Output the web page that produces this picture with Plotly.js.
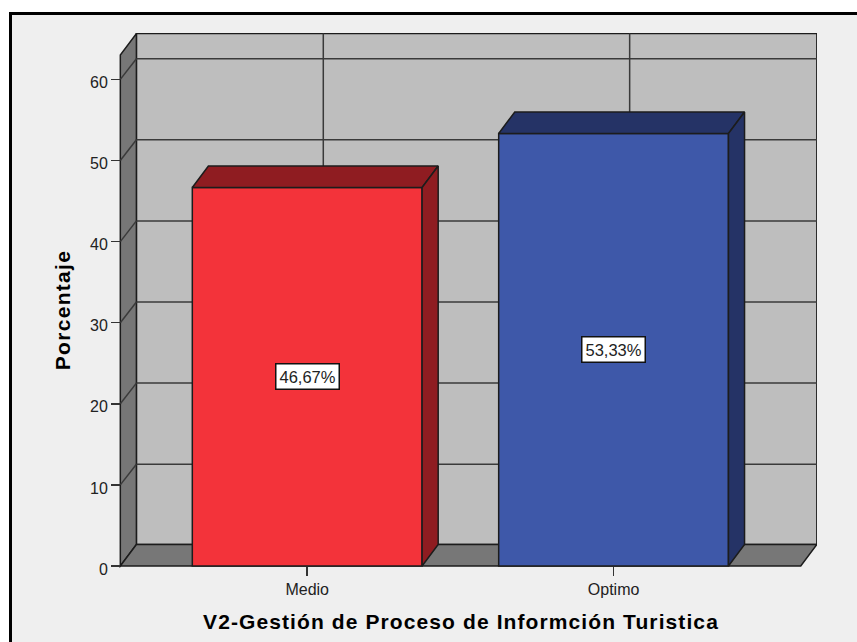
<!DOCTYPE html>
<html>
<head>
<meta charset="utf-8">
<script src="https://cdn.plot.ly/plotly-3.0.1.min.js"></script>
<style>
html,body{margin:0;padding:0;background:#fff;overflow:hidden}
#frame{position:absolute;left:9px;top:12px;width:848px;height:630px;box-sizing:border-box;border-left:3px solid #000;border-top:3px solid #000;background:#efefef}
#chart{width:845px;height:627px}
.xtitle{letter-spacing:1.1px}
.ytitle{letter-spacing:1.3px}
</style>
</head>
<body>
<div id="frame"><div id="chart"></div></div>
<script>
const categories = ['Medio', 'Optimo'];
const positions = [0, 1];
const percentages = [46.67, 53.33];
const barLabels = ['46,67%', '53,33%'];
const frontColors = ['#f3333a', '#3e58a9'];
const sideColors = ['#8f1c21', '#253366'];
const yTicks = [0, 10, 20, 30, 40, 50, 60];

const barWidth = 0.75;
const depthX = 0.0525;
const depthY = 2.65;
const gridDepthY = 2.55;
const frontLeft = -0.61, frontRight = 1.611, frontTop = 63;

const edge = '#1c1c1c';
const wallLine = {color: edge, width: 1.5};
const gridLine = {color: '#3a3a3a', width: 1.5};

function poly(pts, fill, line) {
  return {type: 'path', layer: 'below', xref: 'x', yref: 'y',
    path: 'M' + pts.map(p => p[0] + ',' + p[1]).join('L') + 'Z',
    fillcolor: fill, line: line};
}
function seg(x0, y0, x1, y1, line) {
  return {type: 'line', layer: 'below', xref: 'x', yref: 'y', x0, y0, x1, y1, line};
}

const shapes = [
  poly([[frontLeft + depthX, depthY], [frontRight + depthX, depthY], [frontRight + depthX, frontTop + depthY], [frontLeft + depthX, frontTop + depthY]], '#bebebe', wallLine),
  poly([[frontLeft, 0], [frontLeft + depthX, depthY], [frontLeft + depthX, frontTop + depthY], [frontLeft, frontTop]], '#777777', wallLine),
  poly([[frontLeft, 0], [frontRight, 0], [frontRight + depthX, depthY], [frontLeft + depthX, depthY]], '#777777', wallLine)
];
yTicks.slice(1).forEach(v => {
  shapes.push(seg(frontLeft + depthX, v + gridDepthY, frontRight + depthX, v + gridDepthY, gridLine));
  shapes.push(seg(frontLeft, v, frontLeft + depthX, v + gridDepthY, gridLine));
});
positions.forEach(p => {
  shapes.push(seg(p + depthX, depthY, p + depthX, frontTop + depthY, gridLine));
});

const traces = [{
  type: 'bar', x: positions, y: percentages, width: barWidth,
  marker: {color: frontColors, line: {color: edge, width: 1.5}},
  hoverinfo: 'x+y', showlegend: false
}];
positions.forEach((p, i) => {
  const l = p - barWidth / 2, r = p + barWidth / 2, v = percentages[i];
  traces.push({
    type: 'scatter', mode: 'lines', fill: 'toself', fillcolor: sideColors[i],
    x: [l, r, r + depthX, l + depthX, l],
    y: [v, v, v + depthY, v + depthY, v],
    line: {color: edge, width: 1.5}, hoverinfo: 'skip', showlegend: false
  });
  traces.push({
    type: 'scatter', mode: 'lines', fill: 'toself', fillcolor: sideColors[i],
    x: [r, r + depthX, r + depthX, r, r],
    y: [0, depthY, v + depthY, v, 0],
    line: {color: edge, width: 1.5}, hoverinfo: 'skip', showlegend: false
  });
});

const annotations = positions.map((p, i) => ({
  x: p, y: percentages[i] / 2, text: barLabels[i], showarrow: false,
  bgcolor: '#ffffff', bordercolor: '#111111', borderwidth: 1.5, borderpad: 3,
  font: {family: 'Liberation Sans, Arial, sans-serif', size: 16.5, color: '#222'}
}));

const tickFont = {family: 'Liberation Sans, Arial, sans-serif', size: 16, color: '#222'};
const titleFont = {family: 'Liberation Sans, Arial, sans-serif', size: 21, color: '#000', weight: 'bold'};

const layout = {
  width: 845, height: 627, autosize: false,
  margin: {l: 93, r: 40, t: 18, b: 55, pad: 0},
  paper_bgcolor: '#efefef', plot_bgcolor: 'rgba(0,0,0,0)',
  showlegend: false, shapes, annotations,
  xaxis: {
    domain: [0, 1], range: [-0.66, 1.664], anchor: 'free', position: 21 / 554,
    tickmode: 'array', tickvals: positions, ticktext: categories,
    ticks: 'outside', ticklen: 9, tickwidth: 1.5, tickcolor: '#333',
    showgrid: false, zeroline: false, showline: false, tickfont: tickFont,
    title: {text: 'V2-Gestión de Proceso de Informción Turistica', font: titleFont, standoff: 17}
  },
  yaxis: {
    domain: [0, 1], range: [-2.589, 65.72], anchor: 'free', position: 15 / 712,
    tickmode: 'array', tickvals: yTicks, ticklabelshift: 3,
    ticks: 'outside', ticklen: 9, tickwidth: 1.5, tickcolor: '#333',
    showgrid: false, zeroline: false, showline: false, tickfont: tickFont,
    title: {text: 'Porcentaje', font: titleFont, standoff: 12}
  }
};
Plotly.newPlot('chart', traces, layout, {displayModeBar: false, staticPlot: true});
</script>
</body>
</html>
